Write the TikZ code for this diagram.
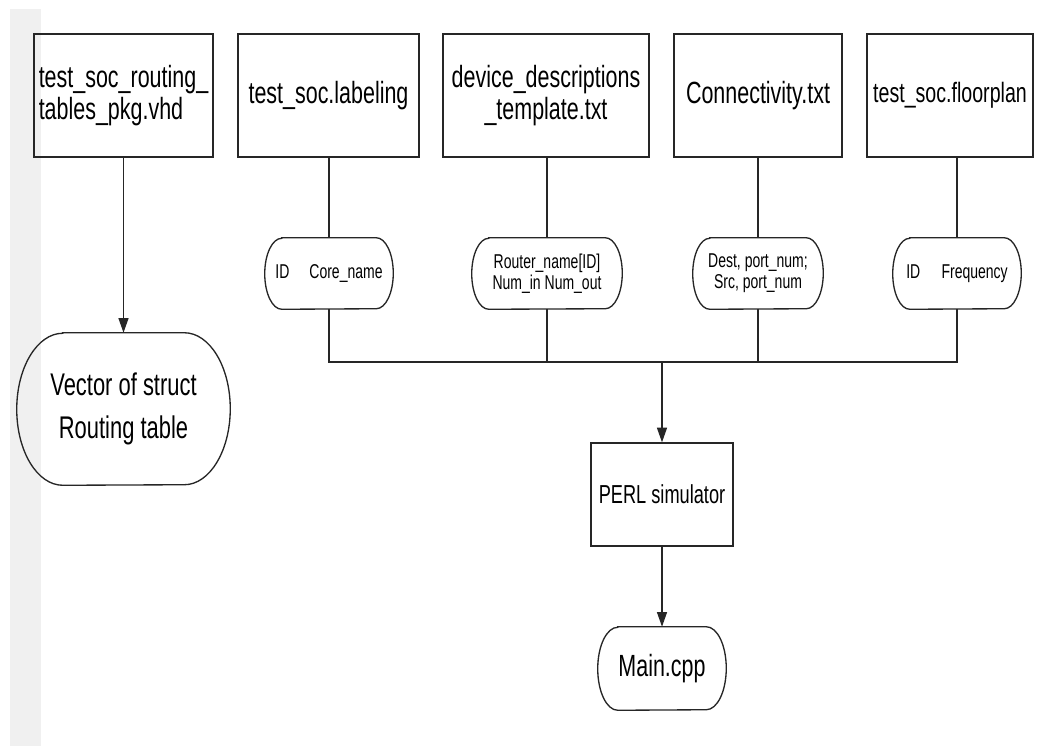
\documentclass[tikz,border=0pt]{standalone}
\usepackage{fontspec}
\setmainfont{Liberation Sans}[FakeStretch=0.70]
\usetikzlibrary{arrows.meta}

% outline of a terminal node: straight top and bottom, half-ellipse ends
% #1 node name, #2 horizontal radius, #3 vertical radius (both in px)
\newcommand\stadiumoutline[3]{%
  \draw[conn] ([xshift=#2*0.75pt]#1.north west) -- ([xshift=-#2*0.75pt]#1.north east)
    arc[start angle=90, end angle=-90, x radius=#2*0.75pt, y radius=#3*0.75pt]
    -- ([xshift=#2*0.75pt]#1.south west)
    arc[start angle=270, end angle=90, x radius=#2*0.75pt, y radius=#3*0.75pt]
    -- cycle;}

\begin{document}
\begin{tikzpicture}[x=0.75pt,y=-0.75pt,
  conn/.style={line width=1pt, draw=black!85},
  arr/.style={conn, -{Triangle[length=11pt,width=7.5pt]}},
  filebox/.style={draw=black!85, line width=1pt, rectangle, inner sep=0pt,
    align=center, font=\fontsize{23}{24}\selectfont},
  term/.style={rectangle, inner sep=0pt, align=center},
  smallterm/.style={term, minimum height=71*0.75pt, font=\fontsize{15}{16}\selectfont},
]
\useasboundingbox (0,0) rectangle (1050,746);
\fill[gray!12] (10,9) rectangle (41,746);

% input files
\node[filebox, minimum width=179*0.75pt, minimum height=123*0.75pt, align=left]
  (b1) at (123.5,95.5) {test\_soc\_routing\_\\tables\_pkg.vhd};
\node[filebox, minimum width=181*0.75pt, minimum height=123*0.75pt]
  (b2) at (328.5,95.5) {test\_soc.labeling};
\node[filebox, minimum width=206*0.75pt, minimum height=123*0.75pt]
  (b3) at (546,95.5) {device\_descriptions\\\_template.txt};
\node[filebox, minimum width=168*0.75pt, minimum height=123*0.75pt]
  (b4) at (758,95.5) {Connectivity.txt};
\node[filebox, minimum width=166*0.75pt, minimum height=123*0.75pt,
  font=\fontsize{21}{22}\selectfont]
  (b5) at (950,95.5) {test\_soc.floorplan};

% data read from each file
\node[smallterm, minimum width=128*0.75pt] (t1) at (329,273.5) {ID\hspace{15pt}Core\_name};
\node[smallterm, minimum width=150*0.75pt] (t2) at (547,273.5) {Router\_name[ID]\\Num\_in Num\_out};
\node[smallterm, minimum width=130*0.75pt] (t3) at (758,273.5) {Dest, port\_num;\\Src, port\_num};
\node[smallterm, minimum width=128*0.75pt] (t4) at (957,273.5) {ID\hspace{16pt}Frequency};
\stadiumoutline{t1}{17}{35.5}
\stadiumoutline{t2}{17}{35.5}
\stadiumoutline{t3}{17}{35.5}
\stadiumoutline{t4}{17}{35.5}

% routing table output
\node[term, minimum width=213*0.75pt, minimum height=152*0.75pt,
  font=\fontsize{23.5}{32}\selectfont] (vec) at (123.5,409) {Vector of struct\\Routing table};
\stadiumoutline{vec}{46}{76}

% simulator and generated code
\node[filebox, minimum width=142*0.75pt, minimum height=103*0.75pt,
  font=\fontsize{19.5}{21}\selectfont] (perl) at (662,494.5) {PERL simulator};
\node[term, minimum width=128*0.75pt, minimum height=83*0.75pt,
  font=\fontsize{23}{24}\selectfont] (main) at (662,668.5) {Main.cpp};
\stadiumoutline{main}{20}{41.5}

\coordinate (bus) at (662,362);

% connectors
\draw[arr] (b1.south) -- (vec.north);
\draw[conn] (t1.north |- b2.south) -- (t1.north);
\draw[conn] (t2.north |- b3.south) -- (t2.north);
\draw[conn] (t3.north |- b4.south) -- (t3.north);
\draw[conn] (t4.north |- b5.south) -- (t4.north);
\draw[conn] (t1.south) -- (t1.south |- bus) -- (t4.south |- bus) -- (t4.south);
\draw[conn] (t2.south) -- (t2.south |- bus);
\draw[conn] (t3.south) -- (t3.south |- bus);
\draw[arr] (bus) -- (perl.north);
\draw[arr] (perl.south) -- (main.north);
\end{tikzpicture}
\end{document}
